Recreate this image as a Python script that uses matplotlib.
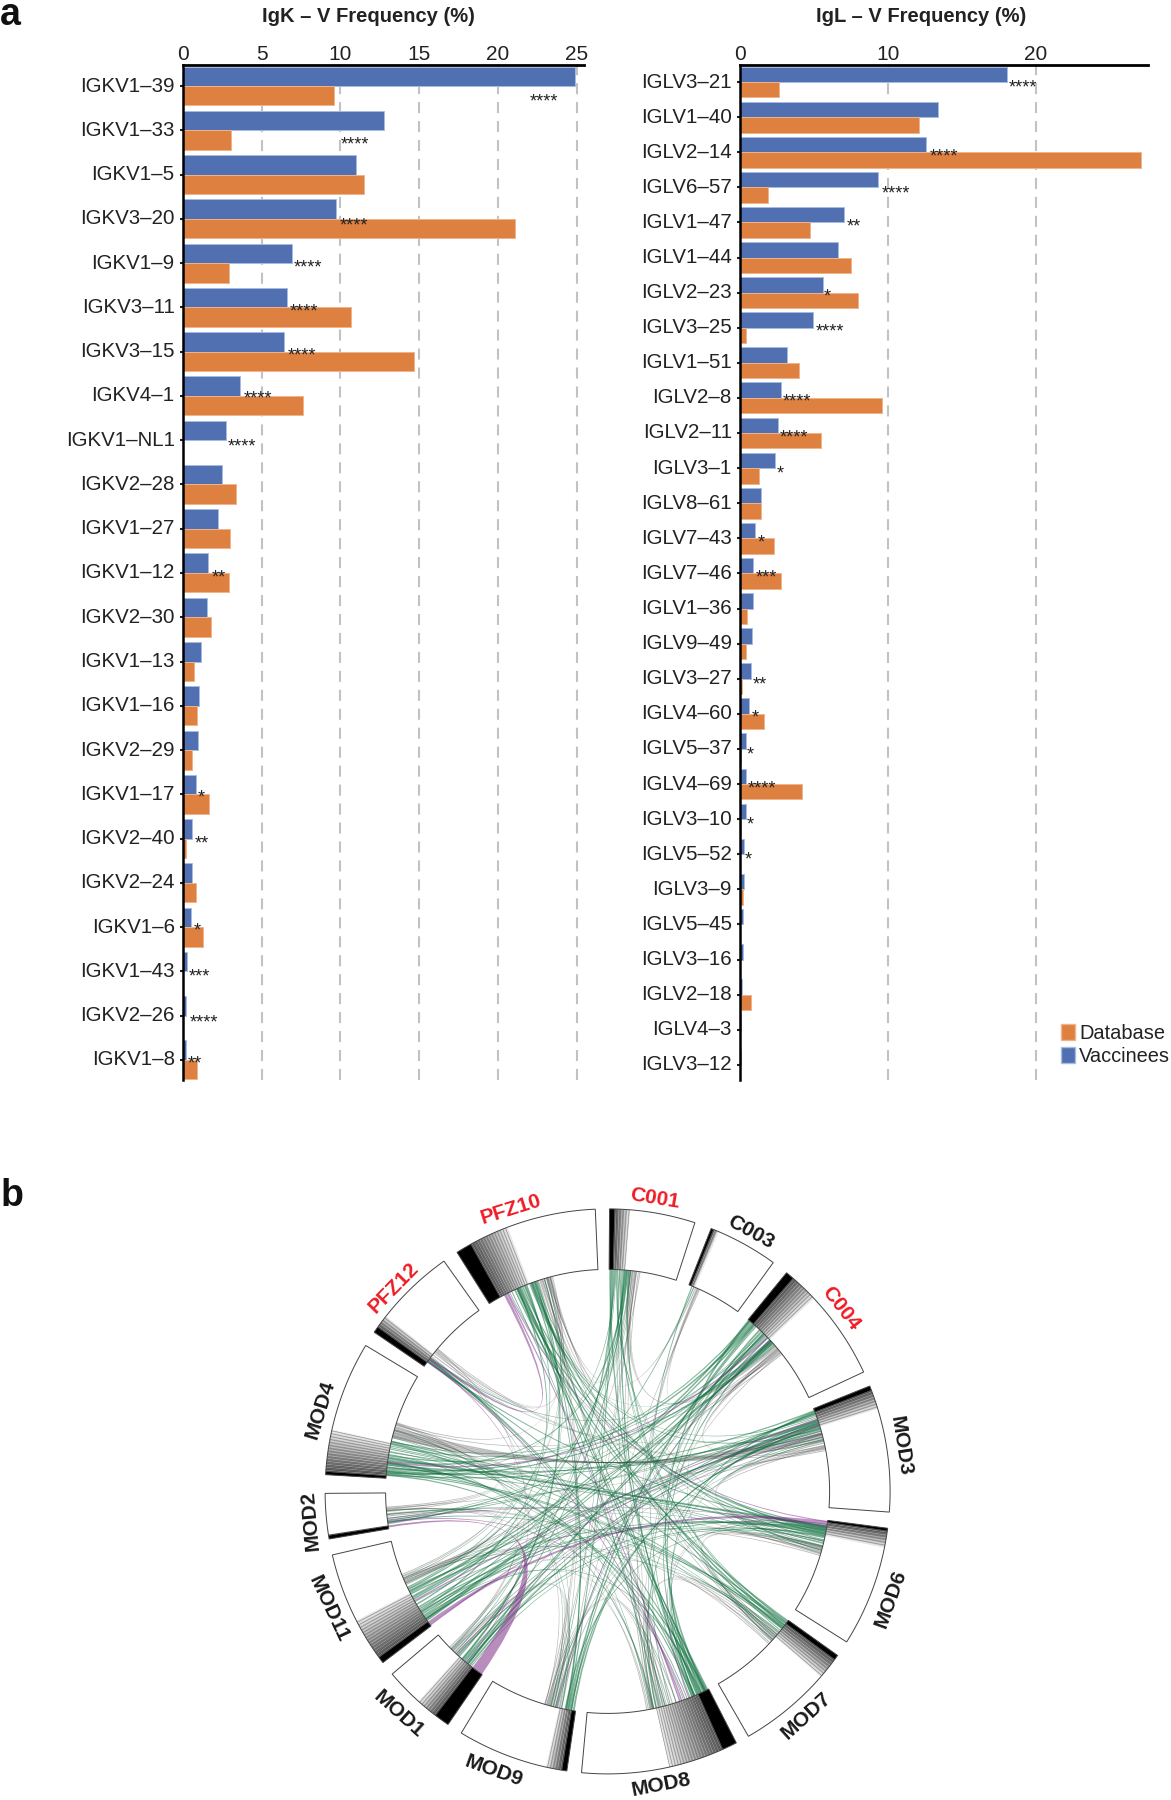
import numpy as np
import matplotlib
matplotlib.use("Agg")
import matplotlib.pyplot as plt
from matplotlib.patches import Patch, PathPatch, Polygon
from matplotlib.path import Path
from matplotlib.collections import LineCollection
from matplotlib.transforms import ScaledTranslation

plt.rcParams['font.family'] = ['Liberation Sans', 'DejaVu Sans']

W, H = 1171, 1800
BLUE = '#5070b1'
ORANGE = '#de8140'

# panel a, kappa
k_genes = ['IGKV1–39', 'IGKV1–33', 'IGKV1–5', 'IGKV3–20', 'IGKV1–9', 'IGKV3–11', 'IGKV3–15', 'IGKV4–1',
           'IGKV1–NL1', 'IGKV2–28', 'IGKV1–27', 'IGKV1–12', 'IGKV2–30', 'IGKV1–13', 'IGKV1–16', 'IGKV2–29',
           'IGKV1–17', 'IGKV2–40', 'IGKV2–24', 'IGKV1–6', 'IGKV1–43', 'IGKV2–26', 'IGKV1–8']
k_vacc = [24.9, 12.75, 11.0, 9.7, 6.9, 6.6, 6.4, 3.65, 2.75, 2.5, 2.2, 1.6, 1.5, 1.15, 1.0, 0.95, 0.8, 0.6,
          0.6, 0.53, 0.25, 0.2, 0.2]
k_db = [9.6, 3.05, 11.5, 21.1, 2.9, 10.7, 14.65, 7.6, 0.0, 3.35, 3.0, 2.95, 1.8, 0.7, 0.9, 0.6, 1.67, 0.17,
        0.8, 1.27, 0.0, 0.0, 0.9]
k_star_row = [0, 1, 3, 4, 5, 6, 7, 8, 11, 16, 17, 19, 20, 21, 22]
k_star_x = [22.0, 10.0, 9.93, 7.0, 6.75, 6.65, 3.85, 2.85, 1.85, 0.95, 0.74, 0.68, 0.38, 0.4, 0.32]
k_star_dy = [0.27, 0.24, 0.05, 0.0, 0.0, 0.0, -0.03, 0.06, 0.0, -0.02, 0.02, -0.02, 0.02, 0.06, -0.02]
k_star_txt = ['****', '****', '****', '****', '****', '****', '****', '****', '**', '*', '**', '*', '***',
              '****', '**']

# panel a, lambda
l_genes = ['IGLV3–21', 'IGLV1–40', 'IGLV2–14', 'IGLV6–57', 'IGLV1–47', 'IGLV1–44', 'IGLV2–23', 'IGLV3–25',
           'IGLV1–51', 'IGLV2–8', 'IGLV2–11', 'IGLV3–1', 'IGLV8–61', 'IGLV7–43', 'IGLV7–46', 'IGLV1–36',
           'IGLV9–49', 'IGLV3–27', 'IGLV4–60', 'IGLV5–37', 'IGLV4–69', 'IGLV3–10', 'IGLV5–52', 'IGLV3–9',
           'IGLV5–45', 'IGLV3–16', 'IGLV2–18', 'IGLV4–3', 'IGLV3–12']
l_vacc = [18.08, 13.4, 12.57, 9.33, 7.03, 6.63, 5.58, 4.96, 3.18, 2.78, 2.57, 2.38, 1.4, 1.0, 0.9, 0.9, 0.8,
          0.7, 0.57, 0.38, 0.38, 0.38, 0.28, 0.28, 0.17, 0.17, 0.15, 0.05, 0.03]
l_db = [2.6, 12.1, 27.1, 1.85, 4.75, 7.5, 7.95, 0.4, 4.0, 9.6, 5.5, 1.25, 1.38, 2.3, 2.73, 0.47, 0.4, 0.1,
        1.64, 0.07, 4.2, 0.07, 0.0, 0.2, 0.02, 0.0, 0.76, 0.0, 0.0]
l_star_row = [0, 2, 3, 4, 6, 7, 9, 10, 11, 13, 14, 17, 18, 19, 20, 21, 22]
l_star_x = [18.2, 12.8, 9.6, 7.2, 5.65, 5.08, 2.9, 2.68, 2.5, 1.16, 1.02, 0.85, 0.76, 0.43, 0.52, 0.43, 0.33]
l_star_dy = [0.04, 0.0, 0.05, 0.0, 0.0, 0.0, 0.0, 0.0, 0.03, 0.0, 0.0, 0.05, 0.0, 0.05, 0.0, 0.03, 0.03]
l_star_txt = ['****', '****', '****', '**', '*', '****', '****', '****', '*', '*', '***', '**', '*', '*',
              '****', '*', '*']

# panel b, sectors in degrees clockwise from north
sector_names = ['C001', 'C003', 'C004', 'MOD3', 'MOD6', 'MOD7', 'MOD8', 'MOD9', 'MOD1', 'MOD11', 'MOD2',
                'MOD4', 'PFZ12', 'PFZ10']
sector_start = [0.4, 21.5, 39.3, 68.1, 97.5, 125.5, 152.9, 188.3, 214.4, 232.7, 260.3, 273.4, 304.3, 327.8]
sector_end = [18.0, 35.9, 65.0, 94.2, 122.2, 150.1, 185.3, 211.2, 229.7, 257.0, 269.6, 301.1, 324.6, 357.5]
sector_fill = [4.6, 23.2, 46.9, 73.0, 101.5, 131.0, 167.3, 192.6, 222.0, 242.8, 261.2, 282.6, 308.3, 339.3]
sector_black = [1.4, 22.0, 41.0, 69.0, 98.0, 126.5, 155.9, 189.3, 217.5, 234.0, 261.0, 274.0, 305.5, 331.0]
sector_label_x = [654.3, 750.6, 841.2, 900.4, 890.2, 806.5, 660.8, 494.3, 398.4, 328.2, 310.6, 320.8, 393.5, 510.6]
sector_label_y = [1199, 1232.6, 1308.5, 1445.7, 1599.1, 1715.8, 1785, 1771, 1713.8, 1609, 1520.8, 1409.3, 1287.6,
                  1209.7]
red_sectors = ['C001', 'C004', 'PFZ10', 'PFZ12']

# chords: angle at one end, angle at other end, width in degrees
green_chords = [
    (39.6, 154.0, .6), (40.2, 243.0, .6), (40.8, 276.0, .6), (41.5, 190.0, .6), (44.8, 219.0, .5),
    (45.4, 235.0, .5), (47.2, 155.0, .5), (47.7, 275.0, .6), (48.2, 241.0, .4), (0.7, 156.0, .5),
    (1.3, 190.3, .4), (1.7, 222.0, .4), (4.2, 157.0, .5), (4.8, 278.0, .5), (5.3, 244.0, .4),
    (5.7, 127.0, .4), (22.4, 157.7, .3), (22.9, 236.0, .3), (68.7, 275.5, .4), (69.3, 220.0, .4),
    (69.8, 262.0, .3), (71.8, 277.0, .5), (72.4, 237.0, .5), (73.0, 189.5, .5), (73.6, 339.5, .4),
    (99.3, 278.5, .4), (99.9, 340.0, .5), (100.5, 238.0, .4), (101.0, 336.0, .5), (101.5, 283.0, .4),
    (102.0, 219.5, .4), (125.8, 336.5, .6), (126.4, 306.0, .4), (127.2, 340.5, .5), (127.8, 282.6, .4),
    (128.2, 274.6, .4), (153.3, 337.0, .5), (153.9, 277.5, .5), (154.5, 306.5, .4), (155.1, 235.0, .4),
    (155.7, 69.0, .5), (156.3, 100.0, .4), (156.9, 44.6, .4), (166.5, 338.0, .4), (167.3, 72.0, .4),
    (168.2, 274.2, .4), (188.8, 72.8, .5), (189.4, 46.2, .4), (190.6, 338.3, .4), (191.0, 101.7, .4),
    (193.2, 42.0, .3), (218.4, 71.5, .5), (219.0, 5.0, .4), (220.4, 47.5, .5), (221.0, 341.0, .4),
    (222.6, 99.6, .4), (234.5, 48.0, .5), (235.5, 72.2, .4), (236.5, 100.8, .4), (237.5, 336.2, .4),
    (238.5, 69.5, .4), (239.4, 4.5, .4), (241.5, 41.2, .5), (242.5, 101.2, .4), (243.4, 73.4, .4),
    (244.4, 338.6, .3), (261.7, 47.0, .4), (262.2, 126.6, .3), (274.3, 71.2, .4), (275.2, 127.5, .4),
    (276.3, 100.2, .4), (277.3, 155.4, .4), (278.8, 99.0, .5), (279.3, 39.8, .4), (282.3, 157.5, .4),
    (283.0, 45.0, .3), (305.7, 99.5, .4), (306.3, 157.2, .4), (307.0, 47.4, .3), (335.3, 128.0, .4),
    (335.9, 154.2, .5), (337.5, 99.2, .4), (339.9, 190.8, .4), (340.8, 153.6, .4), (341.5, 220.8, .4),
    # thinner, paler ones that fill the middle
    (2.0, 274.8, .25), (2.4, 100.4, .25), (3.0, 168.0, .25), (3.5, 126.2, .25), (6.0, 241.8, .2),
    (43.2, 165.6, .25), (43.8, 193.6, .25), (44.2, 262.4, .2), (48.6, 281.8, .25), (49.0, 336.6, .2),
    (70.2, 340.2, .25), (70.6, 306.8, .2), (74.2, 234.8, .25), (75.2, 157.0, .25), (76.4, 219.2, .2),
    (102.6, 341.2, .25), (103.4, 281.4, .25), (104.2, 243.8, .2), (105.4, 2.6, .2), (106.2, 333.8, .2),
    (128.8, 5.5, .25), (129.6, 237.2, .25), (130.6, 280.4, .2), (131.4, 3.8, .25), (132.2, 44.0, .2),
    (158.2, 3.2, .25), (159.0, 276.8, .25), (162.0, 235.8, .2), (163.6, 43.4, .25), (165.0, 334.4, .25),
    (169.0, 306.6, .2), (192.0, 279.6, .25), (192.6, 307.4, .2), (194.2, 1.0, .25), (195.0, 76.8, .2),
    (217.9, 102.8, .25), (223.4, 343.4, .2), (224.2, 73.8, .25), (224.8, 2.2, .2), (240.2, 104.6, .25),
    (245.6, 75.8, .2), (246.2, 129.2, .2), (247.0, 344.2, .2), (263.0, 71.4, .25), (264.0, 103.0, .2),
    (265.0, 130.2, .2), (280.2, 74.8, .25), (281.0, 104.4, .25), (284.0, 160.0, .2), (286.0, 194.8, .2),
]
purple_chords = [
    (332.5, 306.8, .7), (98.2, 233.6, .9), (46.0, 277.6, .5), (160.5, 305.8, .4), (71.0, 240.5, .4),
    (161.0, 333.1, .4), (223.0, 75.0, .3), (158.5, 98.6, .3), (262.0, 159.6, .3), (233.0, 72.6, .4),
    (97.8, 333.4, .3), (306.0, 219.6, .25), (47.0, 193.4, .25), (262.6, 99.0, .3),
]
grey_chords = [
    (5.9, 48.8, .3), (6.3, 49.2, .3), (6.7, 49.5, .25), (6.0, 343.0, .3), (6.5, 344.0, .3), (7.0, 345.0, .25),
    (74.2, 284.2, .5), (74.8, 284.8, .5), (75.4, 285.4, .5), (76.0, 286.0, .5), (76.6, 286.6, .5),
    (75.0, 50.0, .3), (75.8, 50.4, .3), (76.6, 49.8, .3), (77.4, 103.0, .3), (78.0, 103.6, .3), (78.4, 104.2, .3),
    (77.0, 104.8, .3), (105.2, 130.0, .3), (105.7, 130.6, .3), (105.0, 131.2, .3), (104.4, 131.8, .3),
    (129.4, 166.2, .3), (130.2, 166.8, .3), (131.0, 167.4, .3), (131.8, 168.0, .3), (193.6, 222.4, .3),
    (194.2, 223.0, .3), (194.8, 223.6, .3), (195.4, 224.0, .3), (196.0, 163.0, .3), (195.2, 164.0, .3),
    (194.6, 165.0, .3), (245.5, 263.0, .3), (246.0, 263.6, .3), (245.2, 264.2, .3), (264.8, 284.4, .3),
    (265.4, 285.2, .3), (265.9, 286.2, .3), (308.0, 343.5, .3), (308.6, 344.3, .25), (309.2, 345.0, .25),
    (23.4, 344.6, .3), (23.8, 168.4, .3), (24.2, 50.2, .25), (7.2, 168.8, .3), (7.5, 192.0, .3),
    (342.2, 162.0, .3), (342.8, 132.0, .3), (343.4, 196.4, .3), (344.4, 105.4, .3), (50.6, 224.5, .3),
    (50.9, 246.5, .3), (78.6, 193.0, .3), (106.0, 264.0, .3), (132.4, 247.0, .3), (168.6, 287.0, .3),
    (224.6, 287.6, .3), (288.0, 344.9, .3), (287.4, 51.2, .3), (78.8, 309.5, .25),
    (341.8, 194.0, .25), (342.5, 165.4, .25), (344.0, 195.8, .25), (345.2, 130.8, .25), (7.4, 195.6, .25),
    (8.0, 164.6, .25), (24.0, 166.0, .25), (24.5, 192.4, .25), (51.4, 168.2, .25), (51.8, 245.8, .25),
    (79.0, 246.8, .25), (79.4, 265.6, .25), (106.4, 284.6, .25), (106.8, 247.4, .25), (133.0, 287.8, .25),
    (133.4, 265.0, .25), (169.4, 246.6, .25), (169.8, 265.2, .25), (196.4, 285.8, .25), (225.0, 309.0, .25),
    (225.4, 8.4, .25), (247.6, 309.8, .25), (248.0, 345.6, .25), (310.0, 78.2, .25),
]
mod1_mod2_ribbon = [(216.0, 3.0), (260.9, 0.5)]

fig = plt.figure(figsize=(W / 100, H / 100), dpi=100)


def bar_panel(left, right, top, bottom, row0, pitch, xmax, genes, vacc, db, ticks, title, title_x,
              star_row, star_x, star_dy, star_txt):
    ax = fig.add_axes([left / W, 1 - bottom / H, (right - left) / W, (bottom - top) / H])
    y = np.arange(len(genes))
    ax.barh(y - 0.22, vacc, 0.44, color=BLUE, edgecolor='#a8bbe0', linewidth=0.7, zorder=3)
    ax.barh(y + 0.22, db, 0.44, color=ORANGE, edgecolor='#f0b48c', linewidth=0.7, zorder=3)
    ax.set_xlim(0, xmax)
    ax.set_ylim((bottom - row0) / pitch, -(row0 - top) / pitch)
    ax.set_xticks(ticks)
    ax.set_yticks(y)
    ax.set_yticklabels(genes)
    ax.xaxis.tick_top()
    ax.tick_params(axis='x', labelsize=15, length=1, width=1.0, pad=0, colors='#222222')
    ax.tick_params(axis='y', labelsize=14.8, length=2, width=1.5, pad=4, colors='#222222')
    nudge = ScaledTranslation(0, 2 / 100, fig.dpi_scale_trans)
    for lab in ax.get_yticklabels():
        lab.set_transform(lab.get_transform() + nudge)
    for t in ticks:
        if t > 0:
            ax.axvline(t, color='#c2c2c2', lw=1.5, ls=(0, (5.3, 3.8)), dash_capstyle='butt', zorder=1)
    ax.spines['right'].set_visible(False)
    ax.spines['bottom'].set_visible(False)
    ax.spines['left'].set_linewidth(1.8)
    ax.spines['top'].set_linewidth(2.0)
    ax.spines['left'].set_zorder(6)
    ax.spines['top'].set_zorder(6)
    for r, x, dy, s in zip(star_row, star_x, star_dy, star_txt):
        ax.annotate(s, xy=(x, r + dy), xytext=(0, -6.5), textcoords='offset points', fontsize=13,
                    ha='left', va='baseline', color='#222222', zorder=5)
    fig.text(title_x / W, 1 - 16 / H, title, fontsize=14.5, fontweight='bold', ha='center', va='center',
             color='#222222')
    return ax


bar_panel(183, 583.6, 65.4, 1080, 86, 44.27, 25.44, k_genes, k_vacc, k_db, [0, 5, 10, 15, 20, 25],
          'IgK – V Frequency (%)', 368.5, k_star_row, k_star_x, k_star_dy, k_star_txt)
ax_l = bar_panel(740.2, 1148, 65.4, 1080, 82, 35.1, 27.6, l_genes, l_vacc, l_db, [0, 10, 20],
                 'IgL – V Frequency (%)', 921, l_star_row, l_star_x, l_star_dy, l_star_txt)

ax_l.legend(handles=[Patch(facecolor=ORANGE, edgecolor='#f0b48c', label='Database'),
                     Patch(facecolor=BLUE, edgecolor='#a8bbe0', label='Vaccinees')],
            loc='lower left', bbox_to_anchor=(1061 / W, 1 - 1066 / H), bbox_transform=fig.transFigure,
            frameon=False, fontsize=14.4, handlelength=0.68, handleheight=0.86, handletextpad=0.22,
            labelspacing=0.22, borderpad=0, borderaxespad=0, labelcolor='#222222')

fig.text(0, 1 - 15 / H, 'a', fontsize=27, fontweight='bold', ha='left', va='center', color='#111111')
fig.text(1 / W, 1 - 1196 / H, 'b', fontsize=27, fontweight='bold', ha='left', va='center', color='#111111')

# circos panel, axes in pixels centred on the circle
CX, CY = 607.6, 1491.4
R_OUT, R_IN = 282.5, 222.0
ax_c = fig.add_axes([0, 0, 1, 1])
ax_c.set_xlim(-CX, W - CX)
ax_c.set_ylim(-(H - CY), CY)
ax_c.axis('off')
ax_c.patch.set_alpha(0)


def polar(r, a):
    a = np.radians(a)
    return r * np.sin(a), r * np.cos(a)


def wedge_points(a0, a1, r0=R_IN, r1=R_OUT):
    ang = np.linspace(a0, a1, 40)
    xo, yo = polar(r1, ang)
    xi, yi = polar(r0, ang[::-1])
    return np.column_stack([np.r_[xo, xi], np.r_[yo, yi]])


for i, name in enumerate(sector_names):
    a0, a1, af, ab = sector_start[i], sector_end[i], sector_fill[i], sector_black[i]
    ax_c.add_patch(Polygon(wedge_points(a0, ab), closed=True, facecolor='black', edgecolor='none', zorder=3))
    edges = np.arange(ab, af, 0.3)
    shades = np.linspace(0.33, 0.9, max(len(edges), 1))
    for e, s in zip(edges, shades):
        ax_c.add_patch(Polygon(wedge_points(e, min(e + 0.3, af)), closed=True, facecolor=str(s),
                               edgecolor='none', zorder=2))
    segs = []
    for e in edges[::2]:
        xa, ya = polar(R_IN, e)
        xb, yb = polar(R_OUT, e)
        segs.append([(xa, ya), (xb, yb)])
    ax_c.add_collection(LineCollection(segs, colors='#222222', linewidths=0.35, alpha=0.6, zorder=3))
    ax_c.add_patch(Polygon(wedge_points(a0, a1), closed=True, facecolor='none', edgecolor='#444444',
                           linewidth=0.7, zorder=4))
    mid = (a0 + a1) / 2
    rot = 180 - mid if 90 < mid < 260 else -mid
    ax_c.text(sector_label_x[i] - CX, CY - sector_label_y[i], name, fontsize=15, fontweight='bold', rotation=rot,
              rotation_mode='anchor', ha='center', va='center',
              color='#ee1c25' if name in red_sectors else '#1a1a1a', zorder=5)


def ribbon(a, wa, b, wb, color, alpha, z):
    p1 = polar(R_IN, a - wa / 2)
    p2 = polar(R_IN, a + wa / 2)
    p3 = polar(R_IN, b - wb / 2)
    p4 = polar(R_IN, b + wb / 2)
    verts = [p1, (0, 0), p4, p3, (0, 0), p2, p1]
    codes = [Path.MOVETO, Path.CURVE3, Path.CURVE3, Path.LINETO, Path.CURVE3, Path.CURVE3, Path.CLOSEPOLY]
    ax_c.add_patch(PathPatch(Path(verts, codes), facecolor=color, edgecolor='none', alpha=alpha, zorder=z))


for a, b, w in grey_chords:
    ribbon(a, w, b, w, '#3c3c3c', 0.34, 1.2)
for a, b, w in green_chords:
    ribbon(a, w, b, w, '#10703f', 0.52, 1.4)
for a, b, w in purple_chords:
    ribbon(a, w, b, w, '#7a2a86', 0.5, 1.6)
(a, wa), (b, wb) = mod1_mod2_ribbon
ribbon(a, wa, b, wb, '#8a3f90', 0.6, 1.6)

fig.savefig('out.png', dpi=100)
